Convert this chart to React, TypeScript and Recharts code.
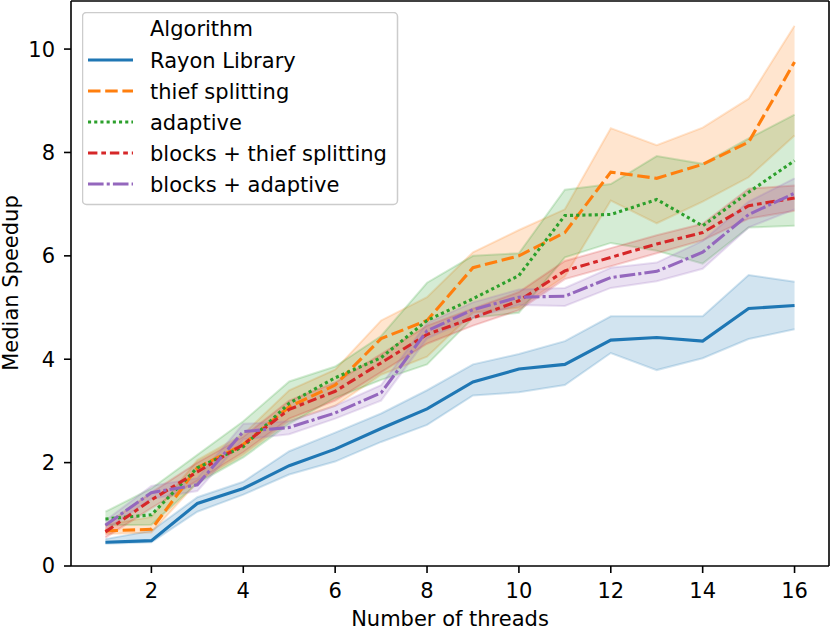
import { ComposedChart, Area, Line, XAxis, YAxis, Legend, Label, ReferenceLine } from "recharts";

const threads = [1, 2, 3, 4, 5, 6, 7, 8, 9, 10, 11, 12, 13, 14, 15, 16];

const rayon = [0.46, 0.49, 1.21, 1.5, 1.94, 2.26, 2.66, 3.04, 3.56, 3.81, 3.9, 4.37, 4.42, 4.35, 4.98, 5.04];
const rayonLo = [0.43, 0.46, 1.05, 1.38, 1.77, 2.02, 2.4, 2.73, 3.3, 3.36, 3.5, 4.12, 3.79, 4.02, 4.39, 4.58];
const rayonHi = [0.52, 0.68, 1.33, 1.63, 2.22, 2.58, 2.95, 3.4, 3.9, 4.1, 4.35, 4.83, 4.83, 4.83, 5.63, 5.5];

const thief = [0.68, 0.71, 1.9, 2.35, 3.08, 3.5, 4.4, 4.75, 5.77, 6.0, 6.45, 7.62, 7.5, 7.77, 8.2, 9.75];
const thiefLo = [0.62, 0.65, 1.62, 2.15, 2.8, 3.1, 3.7, 4.05, 4.9, 5.0, 5.6, 7.07, 6.63, 7.05, 7.52, 8.33];
const thiefHi = [0.8, 0.95, 2.05, 2.55, 3.4, 3.8, 4.75, 5.2, 6.07, 6.5, 6.9, 8.47, 8.14, 8.48, 9.04, 10.45];

const adaptive = [0.91, 0.99, 1.9, 2.31, 3.15, 3.64, 4.03, 4.75, 5.17, 5.62, 6.78, 6.8, 7.09, 6.58, 7.23, 7.84];
const adaptiveLo = [0.79, 0.8, 1.6, 2.1, 2.75, 3.25, 3.6, 3.9, 4.8, 4.9, 5.97, 6.25, 6.1, 5.85, 6.55, 6.58];
const adaptiveHi = [1.05, 1.5, 2.15, 2.8, 3.57, 3.86, 4.45, 5.48, 6.0, 6.05, 7.28, 7.39, 7.93, 7.78, 8.27, 8.73];

const blocksThief = [0.66, 1.28, 1.82, 2.35, 3.03, 3.38, 3.93, 4.48, 4.8, 5.13, 5.71, 5.97, 6.23, 6.45, 6.97, 7.12];
const blocksThiefLo = [0.55, 1.12, 1.65, 2.2, 2.85, 3.2, 3.75, 4.3, 4.65, 4.95, 5.55, 5.8, 6.05, 6.3, 6.72, 6.87];
const blocksThiefHi = [0.8, 1.42, 2.0, 2.5, 3.2, 3.55, 4.1, 4.65, 4.98, 5.3, 5.9, 6.15, 6.4, 6.62, 7.3, 7.36];

const blocksAdaptive = [0.79, 1.42, 1.57, 2.6, 2.68, 2.96, 3.35, 4.55, 4.96, 5.2, 5.22, 5.58, 5.7, 6.07, 6.8, 7.21];
const blocksAdaptiveLo = [0.7, 1.3, 1.45, 2.45, 2.55, 2.85, 3.2, 4.4, 4.8, 5.05, 5.03, 5.38, 5.51, 5.75, 6.55, 6.9];
const blocksAdaptiveHi = [0.88, 1.55, 1.7, 2.75, 2.8, 3.1, 3.5, 4.7, 5.1, 5.35, 5.38, 5.77, 5.87, 6.29, 7.05, 7.5];

const xTicks = [2, 4, 6, 8, 10, 12, 14, 16];
const yTicks = [0, 2, 4, 6, 8, 10];
const xDomain = [0.25, 16.75];
const yDomain = [0, 10.93];

const FONT = "DejaVu Sans, sans-serif";

const series = [
  { key: "rayon", name: "Rayon Library", color: "#1f77b4", dash: undefined, med: rayon, lo: rayonLo, hi: rayonHi },
  { key: "thief", name: "thief splitting", color: "#ff7f0e", dash: "12.5 4.7", med: thief, lo: thiefLo, hi: thiefHi },
  { key: "adaptive", name: "adaptive", color: "#2ca02c", dash: "3.1 3.1", med: adaptive, lo: adaptiveLo, hi: adaptiveHi },
  { key: "blocksThief", name: "blocks + thief splitting", color: "#d62728", dash: "9.4 3.9 4.7 3.9", med: blocksThief, lo: blocksThiefLo, hi: blocksThiefHi },
  { key: "blocksAdaptive", name: "blocks + adaptive", color: "#9467bd", dash: "15.6 3.1 3.1 3.1", med: blocksAdaptive, lo: blocksAdaptiveLo, hi: blocksAdaptiveHi },
];

const rows = threads.map((t, i) => {
  const row: any = { threads: t };
  series.forEach((s) => {
    row[s.key] = s.med[i];
    row[s.key + "Band"] = [s.lo[i], s.hi[i]];
  });
  return row;
});

const renderLegend = () => (
  <svg width={317} height={194} style={{ display: "block" }}>
    <rect x={0.5} y={0.5} width={315} height={192} rx={4} fill="#ffffff" fillOpacity={0.8} stroke="#cccccc" strokeWidth={1.5} />
    <text x={68} y={24} fontFamily={FONT} fontSize={21} fill="#000">Algorithm</text>
    {series.map((s, i) => {
      const cy = 48 + i * 31;
      return (
        <g key={s.key}>
          <line x1={6} x2={51} y1={cy} y2={cy} stroke={s.color} strokeWidth={3.1} strokeDasharray={s.dash} />
          <text x={68} y={cy + 7.5} fontFamily={FONT} fontSize={21} fill="#000">{s.name}</text>
        </g>
      );
    })}
  </svg>
);

const App = () => {
  return (
    <div style={{ position: "absolute", left: 0, top: 0, width: 830, height: 631, background: "#fff" }}>
      <ComposedChart width={830} height={631} data={rows} margin={{ top: 1, right: 1, left: 0, bottom: 0 }}>
        <XAxis
          dataKey="threads"
          type="number"
          domain={xDomain}
          ticks={xTicks}
          allowDataOverflow
          height={65}
          tickSize={7}
          tickMargin={10}
          stroke="#000"
          strokeWidth={1.6}
          tick={{ fill: "#000", fontSize: 21, fontFamily: FONT }}
        >
          <Label value="Number of threads" position="insideBottom" offset={5} fill="#000" fontSize={21} fontFamily={FONT} />
        </XAxis>
        <YAxis
          type="number"
          domain={yDomain}
          ticks={yTicks}
          allowDataOverflow
          width={71}
          tickSize={7}
          tickMargin={9}
          stroke="#000"
          strokeWidth={1.6}
          tick={{ fill: "#000", fontSize: 21, fontFamily: FONT }}
        >
          <Label
            content={() => (
              <text x={18} y={283} transform="rotate(-90 18 283)" textAnchor="middle" fontFamily={FONT} fontSize={21} fill="#000">
                Median Speedup
              </text>
            )}
          />
        </YAxis>
        {series.map((s) => (
          <Area
            key={s.key + "Band"}
            dataKey={s.key + "Band"}
            type="linear"
            fill={s.color}
            fillOpacity={0.2}
            stroke={s.color}
            strokeOpacity={0.2}
            strokeWidth={2}
            isAnimationActive={false}
            legendType="none"
            dot={false}
            activeDot={false}
          />
        ))}
        {series.map((s) => (
          <Line
            key={s.key}
            dataKey={s.key}
            name={s.name}
            type="linear"
            stroke={s.color}
            strokeWidth={3.1}
            strokeDasharray={s.dash}
            dot={false}
            activeDot={false}
            isAnimationActive={false}
          />
        ))}
        <ReferenceLine y={yDomain[1]} stroke="#000" strokeWidth={1.6} ifOverflow="visible" />
        <ReferenceLine x={xDomain[1]} stroke="#000" strokeWidth={1.6} ifOverflow="visible" />
        <Legend
          layout="horizontal"
          verticalAlign="middle"
          align="center"
          content={renderLegend}
          wrapperStyle={{ left: 82, top: 12, width: 317, height: 194 }}
        />
      </ComposedChart>
    </div>
  );
};

export default App;
